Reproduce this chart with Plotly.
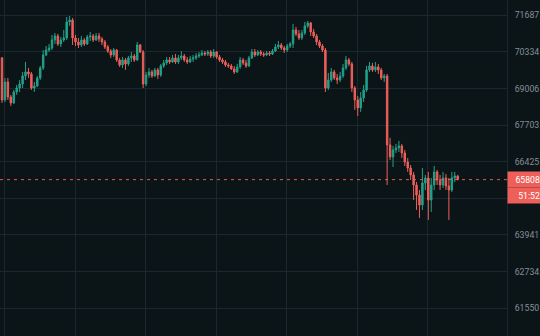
import numpy as np
import plotly.graph_objects as go

# Hourly candles (index 0..155), prices
opens = [70113, 68597, 69241, 68704, 68490, 68882, 69024, 69169, 69459, 69604,
         69532, 69024, 69096, 69387, 69750, 70221, 70403, 70477, 70773, 70921,
         70625, 70773, 70847, 71439, 71513, 70847, 70699, 70588, 70773, 70625,
         70884, 70921, 70773, 70921, 70810, 70699, 70514, 70366, 70221, 70403,
         70040, 69858, 70040, 69895, 70113, 70185, 70040, 70588, 70329, 69169,
         69495, 69604, 69459, 69677, 69495, 69822, 69931, 70040, 69967, 70113,
         69967, 70113, 70185, 70040, 69967, 70076, 70113, 70185, 70221, 70294,
         70258, 70329, 70185, 70329, 70149, 70040, 69967, 69858, 69822, 69713,
         69604, 69786, 70040, 69931, 69822, 70113, 70329, 70221, 70329, 70258,
         70221, 70294, 70258, 70366, 70514, 70588, 70477, 70403, 70551, 70625,
         71143, 70995, 70847, 71032, 71291, 71402, 71069, 70921, 70699, 70551,
         70403, 69024, 69314, 69604, 69387, 69314, 69459, 69750, 70040, 69895,
         69024, 68597, 68312, 68668, 68953, 69677, 69822, 69677, 69786, 69677,
         69387, 69459, 67009, 66590, 66834, 66904, 66974, 66729, 66414, 66209,
         65969, 65626, 65282, 64946, 65694, 65866, 65114, 65626, 66072, 65797,
         65626, 65866, 65591, 65454, 65866, 65934]
highs = [70149, 69387, 69387, 68775, 68953, 69132, 69314, 69604, 69967, 69750,
         69604, 69241, 69459, 69822, 70403, 70551, 70625, 70958, 71032, 70995,
         70884, 71143, 71624, 71661, 71587, 70958, 70847, 70921, 70847, 70958,
         71069, 70995, 71032, 71032, 70884, 70773, 70588, 70440, 70477, 70440,
         70113, 70149, 70113, 70185, 70329, 70258, 70699, 70625, 70403, 69604,
         69750, 69677, 69750, 69750, 69895, 70040, 70149, 70149, 70221, 70258,
         70221, 70366, 70258, 70149, 70185, 70221, 70294, 70329, 70403, 70366,
         70403, 70403, 70440, 70366, 70221, 70113, 70040, 69931, 69895, 69822,
         69895, 70149, 70113, 70040, 70185, 70440, 70440, 70403, 70403, 70329,
         70366, 70366, 70440, 70625, 70736, 70662, 70551, 70625, 70699, 71365,
         71254, 71143, 71143, 71439, 71476, 71439, 71180, 70995, 70773, 70625,
         70477, 69568, 69750, 69677, 69532, 69604, 69895, 70185, 70113, 69967,
         69096, 68739, 68882, 69132, 69822, 69967, 69931, 69967, 69895, 69750,
         69532, 69532, 67253, 66974, 67044, 67148, 67044, 66834, 66555, 66311,
         66072, 65728, 65454, 66209, 65969, 66072, 65866, 66277, 66140, 65969,
         66072, 66003, 65866, 66072, 66072, 65969]
lows = [68490, 68526, 68597, 68383, 68455, 68775, 68882, 69024, 69314, 69387,
        68953, 68882, 69060, 69314, 69677, 70185, 70329, 70403, 70625, 70551,
        70514, 70699, 70773, 71291, 70588, 70551, 70477, 70514, 70551, 70588,
        70736, 70699, 70736, 70699, 70588, 70440, 70294, 70113, 70149, 69967,
        69786, 69750, 69677, 69822, 69967, 69967, 70004, 70294, 69024, 69096,
        69387, 69387, 69423, 69350, 69423, 69750, 69858, 69895, 69931, 69895,
        69895, 70040, 69967, 69895, 69931, 69967, 70040, 70113, 70185, 70185,
        70185, 70113, 70113, 70076, 69967, 69895, 69786, 69750, 69677, 69532,
        69568, 69713, 69858, 69750, 69786, 70076, 70149, 70185, 70185, 70149,
        70185, 70185, 70221, 70329, 70440, 70403, 70294, 70329, 70477, 70477,
        70921, 70773, 70773, 70958, 71217, 70921, 70847, 70588, 70477, 70329,
        68882, 68953, 69241, 69314, 69169, 69241, 69387, 69677, 69822, 68882,
        68241, 68027, 68170, 68526, 68882, 69604, 69604, 69604, 69532, 69314,
        69241, 65626, 66485, 66243, 66729, 66764, 66555, 66277, 66072, 65797,
        65114, 64778, 64509, 64778, 65454, 64442, 64711, 65454, 65626, 65454,
        65523, 65454, 64442, 65386, 65728, 65797]
closes = [68597, 69241, 68704, 68490, 68882, 69024, 69169, 69459, 69604, 69532,
          69024, 69096, 69387, 69750, 70221, 70403, 70477, 70773, 70921, 70625,
          70773, 70847, 71439, 71513, 70847, 70699, 70588, 70773, 70625, 70884,
          70921, 70773, 70921, 70810, 70699, 70514, 70366, 70221, 70403, 70040,
          69858, 70040, 69895, 70113, 70185, 70040, 70588, 70329, 69169, 69495,
          69604, 69459, 69677, 69495, 69822, 69931, 70040, 69967, 70113, 69967,
          70113, 70185, 70040, 69967, 70076, 70113, 70185, 70221, 70294, 70258,
          70329, 70185, 70329, 70149, 70040, 69967, 69858, 69822, 69713, 69604,
          69786, 70040, 69931, 69822, 70113, 70329, 70221, 70329, 70258, 70221,
          70294, 70258, 70366, 70514, 70588, 70477, 70403, 70551, 70625, 71143,
          70995, 70847, 71032, 71291, 71402, 71069, 70921, 70699, 70551, 70403,
          69024, 69314, 69604, 69387, 69314, 69459, 69750, 70040, 69895, 69024,
          68597, 68312, 68668, 68953, 69677, 69822, 69677, 69786, 69677, 69387,
          69459, 67009, 66590, 66834, 66904, 66974, 66729, 66414, 66209, 65969,
          65626, 65282, 64946, 65694, 65866, 65114, 65626, 66072, 65797, 65626,
          65866, 65591, 65454, 65866, 65934, 65808]

# Price-scale ticks (65171 sits under the countdown box, so its label is hidden)
price_ticks = [71687, 70334, 69006, 67703, 66425, 65171, 63941, 62734, 61550]
price_labels = ["71687", "70334", "69006", "67703", "66425", "", "63941", "62734", "61550"]
# Day separators (candle index positions)
day_ticks = [0.85, 24.85, 48.85, 72.85, 96.85, 120.85, 144.85]
countdown = "51:52"

BG = "#0b1517"
GRID = "#1a2830"
UP = "#22a18a"
DOWN = "#ef5f5a"

idx = list(range(len(closes)))
last = closes[-1]

fig = go.Figure()
fig.add_trace(go.Candlestick(
    x=idx, open=opens, high=highs, low=lows, close=closes,
    increasing=dict(line=dict(color=UP, width=1), fillcolor=UP),
    decreasing=dict(line=dict(color=DOWN, width=1), fillcolor=DOWN),
    whiskerwidth=0, hoverinfo="skip", showlegend=False,
))

fig.add_shape(type="line", xref="paper", x0=0, x1=1, yref="y", y0=last, y1=last,
              line=dict(color="rgba(239,95,90,0.95)", width=1, dash="3px,4px"))

fig.add_annotation(xref="paper", x=1, xanchor="left", yref="y", y=np.log10(last),
                   text=f"{last}", showarrow=False, bgcolor=DOWN, width=31, height=13,
                   borderpad=1, align="right", font=dict(color="white", size=8.7, family="Roboto"))
fig.add_annotation(xref="paper", x=1, xanchor="left", yref="y", y=np.log10(last), yshift=-16,
                   text=countdown, showarrow=False, bgcolor=DOWN, width=31, height=13,
                   borderpad=1, align="right", font=dict(color="white", size=8.7, family="Roboto"))

fig.update_layout(
    width=540, height=336,
    margin=dict(l=0, r=33, t=0, b=0),
    paper_bgcolor=BG, plot_bgcolor=BG,
    showlegend=False,
    xaxis=dict(range=[-0.68, 171.77], rangeslider=dict(visible=False),
               showticklabels=False, showgrid=True, gridcolor=GRID, gridwidth=1,
               tickmode="array", tickvals=day_ticks, zeroline=False, ticks=""),
    yaxis=dict(type="log", side="right", range=[4.78292, 4.85890],
               tickmode="array", tickvals=price_ticks, ticktext=price_labels,
               showgrid=True, gridcolor=GRID, gridwidth=1, zeroline=False,
               ticks="", showline=True, linecolor=GRID, linewidth=1,
               ticklabelstandoff=5,
               tickfont=dict(color="#868e99", size=8.7, family="Roboto")),
)

fig.write_html("out.html")
